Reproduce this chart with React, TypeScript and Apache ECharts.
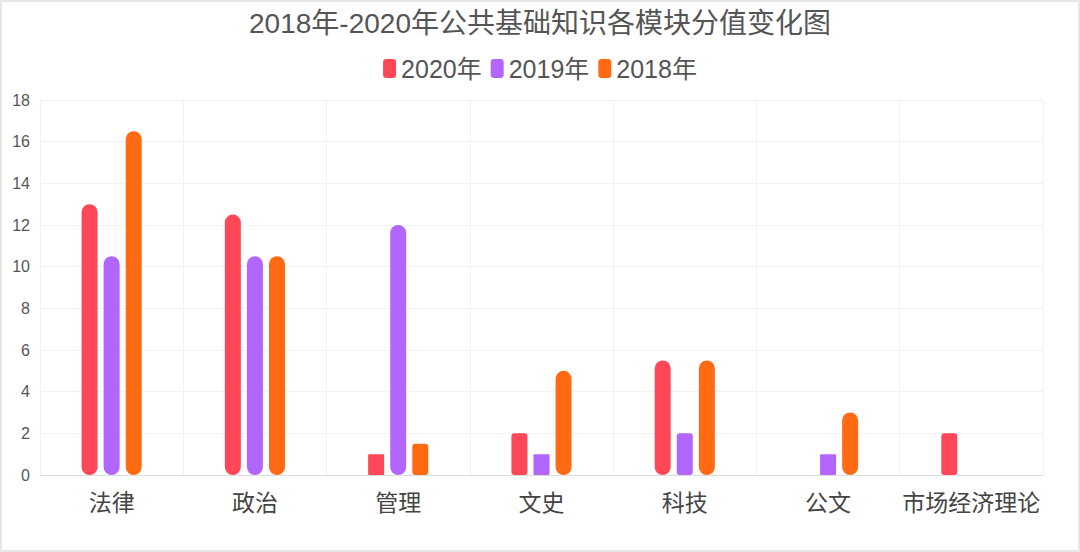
import React, { useEffect, useRef } from "react";
import * as echarts from "echarts";

const categories = ["法律", "政治", "管理", "文史", "科技", "公文", "市场经济理论"];
const seriesNames = ["2020年", "2019年", "2018年"];
const values2020: (number | null)[] = [13, 12.5, 1, 2, 5.5, null, 2];
const values2019: (number | null)[] = [10.5, 10.5, 12, 1, 2, 1, null];
const values2018: (number | null)[] = [16.5, 10.5, 1.5, 5, 5.5, 3, null];
const colors = ["#FF4757", "#B266FF", "#FF6A13"];
const titleText = "2018年-2020年公共基础知识各模块分值变化图";

const FONT = "'Liberation Sans', 'Noto Sans CJK SC', sans-serif";

function radiusFor(v: number | null) {
  if (v == null) return 0;
  if (v >= 3) return 8;
  if (v >= 1.5) return 3;
  return 1;
}

export default function App() {
  const ref = useRef<HTMLDivElement>(null);
  useEffect(() => {
    if (!ref.current) return;
    const chart = echarts.init(ref.current, undefined, { renderer: "svg" });
    const data = [values2020, values2019, values2018];
    chart.setOption({
      animation: false,
      backgroundColor: "#fff",
      title: {
        text: titleText,
        left: "center",
        top: 2,
        textStyle: { fontSize: 28, fontWeight: "normal", color: "#555", fontFamily: FONT },
      },
      legend: {
        top: 49,
        left: "center",
        itemWidth: 13,
        itemHeight: 19,
        itemGap: 9,
        icon: "roundRect",
        textStyle: { fontSize: 25, color: "#555", fontFamily: FONT },
        data: seriesNames,
      },
      grid: { left: 38, right: 35, top: 98, bottom: 75, containLabel: false },
      xAxis: {
        type: "category",
        data: categories,
        axisLine: { show: true, lineStyle: { color: "#ddd", width: 1 } },
        axisTick: { show: false },
        splitLine: { show: true, interval: 0, lineStyle: { color: "#f2f2f2" } },
        axisLabel: { interval: 0, fontSize: 23, color: "#444", margin: 16, fontFamily: FONT },
      },
      yAxis: {
        type: "value",
        min: 0,
        max: 18,
        interval: 2,
        axisLine: { show: false },
        axisTick: { show: false },
        splitLine: { lineStyle: { color: "#f2f2f2" } },
        axisLabel: { fontSize: 16, color: "#555", margin: 10, fontFamily: FONT },
      },
      series: seriesNames.map((name, i) => ({
        name,
        type: "bar",
        data: data[i].map((v) => ({
          value: v,
          itemStyle: { borderRadius: radiusFor(v) },
        })),
        barWidth: 16,
        barGap: "38%",
        itemStyle: { color: colors[i], borderRadius: 8 },
      })),
    });
    return () => chart.dispose();
  }, []);
  return (
    <div
      style={{
        position: "fixed",
        left: 0,
        top: 0,
        width: 1080,
        height: 552,
        boxSizing: "border-box",
        border: "2px solid #e6e6e6",
        background: "#fff",
      }}
    >
      <div ref={ref} style={{ width: 1076, height: 548 }} />
    </div>
  );
}
